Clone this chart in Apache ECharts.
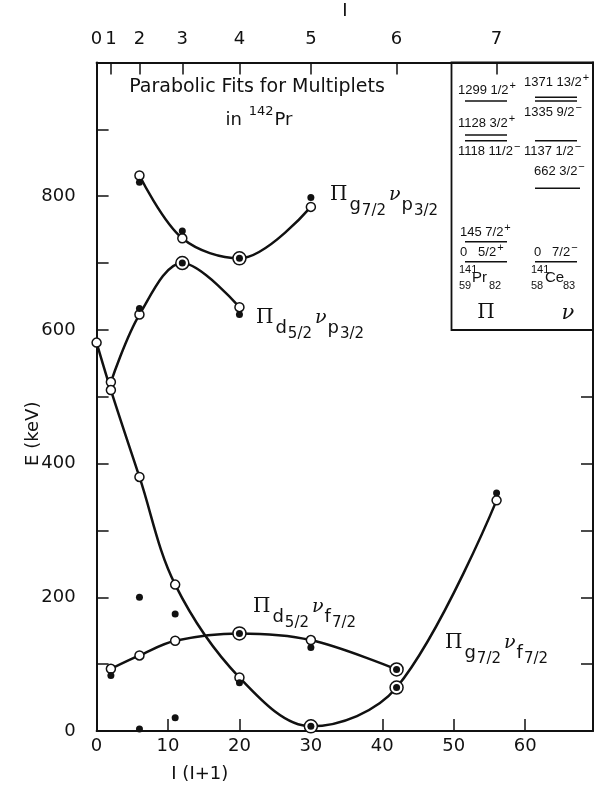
<!DOCTYPE html>
<html>
<head>
<meta charset="utf-8">
<script src="https://cdn.jsdelivr.net/npm/echarts@6/dist/echarts.min.js"></script>
<style>
html, body { margin: 0; padding: 0; background: #fff; }
#main { width: 594px; height: 792px; }
</style>
</head>
<body>
<div id="main"></div>
<script>
// top axis: spin I placed at I(I+1)
var spinValues = [0, 1, 2, 3, 4, 5, 6, 7];
var spinPositions = [0, 2, 6, 12, 20, 30, 42, 56];

// open circles (parabolic fit), one list per multiplet, [I(I+1), E keV]
var g7p3 = [[6, 831], [12, 737], [20, 707], [30, 784]];
var d5p3 = [[2, 522], [6, 623], [12, 700], [20, 634]];
var d5f7 = [[2, 93], [6, 113], [11, 135], [20, 146], [30, 136], [42, 92]];
var g7f7 = [[0, 581], [2, 510], [6, 380], [11, 219], [20, 80], [30, 7], [42, 65], [56, 345]];

// filled dots (measured levels)
var measured = [
	[6, 821], [12, 748], [20, 707], [30, 798],
	[6, 632], [12, 700], [20, 623],
	[2, 83], [6, 200], [11, 175], [20, 146], [30, 125], [42, 92],
	[6, 3], [11, 20], [20, 72], [30, 7], [42, 65], [56, 356]
];

// points where fit and measurement fall together (ringed dots)
var matched = [[20, 707], [12, 700], [20, 146], [42, 92], [30, 7], [42, 65]];

var yTicks = [0, 100, 200, 300, 400, 500, 600, 700, 800, 900, 1000];
var rightTicks = [100, 200, 300, 400, 500];

(function() {
	var myChart = echarts.init(document.getElementById("main"));
	var black = "#111";
	var FONT = "DejaVu Sans";
	var SERIF = "DejaVu Serif";
	var LIB = "Liberation Sans";

	function fitLine(data) {
		return {
			type: "line",
			data: data,
			smooth: 0.35,
			symbol: "circle",
			symbolSize: 9,
			showSymbol: true,
			lineStyle: { color: black, width: 2.5 },
			itemStyle: { color: "#fff", borderColor: black, borderWidth: 1.5 },
			z: 2,
			silent: true
		};
	}

	var labelRich = {
		P: { fontFamily: SERIF, fontSize: 20, lineHeight: 20, verticalAlign: "top", padding: [1, 2, 0, 0], fill: black },
		s: { fontFamily: FONT, fontSize: 18, lineHeight: 18, verticalAlign: "top", padding: [12, 0, 0, 0], fill: black },
		f: { fontFamily: FONT, fontSize: 15, lineHeight: 15, verticalAlign: "top", padding: [20, 2, 0, 1], fill: black },
		n: { fontFamily: SERIF, fontStyle: "italic", fontSize: 19, lineHeight: 19, verticalAlign: "top", padding: [2, 1, 0, 1], fill: black }
	};

	function curveLabel(x, y, a, fa, b, fb) {
		return {
			type: "text", x: x, y: y, silent: true,
			style: {
				text: "{P|\u03A0}{s|" + a + "}{f|" + fa + "}{n|\u03BD}{s|" + b + "}{f|" + fb + "}",
				rich: labelRich, verticalAlign: "top", align: "left", fill: black
			}
		};
	}

	var insetRich = {
		a: { fontFamily: LIB, fontSize: 13, lineHeight: 13, verticalAlign: "top", padding: [4, 0, 0, 0], fill: black },
		s: { fontFamily: LIB, fontSize: 11, lineHeight: 11, verticalAlign: "top", padding: [0, 0, 0, 1], fill: black }
	};

	function insetText(x, y, main, sup) {
		return {
			type: "text", x: x, y: y - 6, silent: true,
			style: {
				text: "{a|" + main + "}{s|" + sup + "}",
				rich: insetRich, verticalAlign: "top", align: "left", fill: black
			}
		};
	}

	function level(x1, x2, y) {
		return {
			type: "line", silent: true,
			shape: { x1: x1, y1: y, x2: x2, y2: y },
			style: { stroke: black, lineWidth: 1.5 }
		};
	}

	function plain(x, y, str, size, family, extra) {
		var st = { text: str, fontSize: size, fontFamily: family, fill: black, align: "left", verticalAlign: "top" };
		for (var k in extra) st[k] = extra[k];
		return { type: "text", x: x, y: y, silent: true, style: st };
	}

	var graphics = [
		// title
		plain(257, 78, "Parabolic Fits for Multiplets", 19, FONT, { align: "center" }),
		{
			type: "text", x: 259, y: 103, silent: true,
			style: {
				text: "{a|in }{s|142}{a|Pr}", align: "center", verticalAlign: "top", fill: black,
				rich: {
					a: { fontFamily: FONT, fontSize: 18, lineHeight: 18, verticalAlign: "top", padding: [8, 0, 0, 0], fill: black },
					s: { fontFamily: FONT, fontSize: 13, lineHeight: 13, verticalAlign: "top", padding: [2, 1, 0, 1], fill: black }
				}
			}
		},
		// curve labels
		curveLabel(330, 184, "g", "7/2", "p", "3/2"),
		curveLabel(256, 307, "d", "5/2", "p", "3/2"),
		curveLabel(253, 596, "d", "5/2", "f", "7/2"),
		curveLabel(445, 632, "g", "7/2", "f", "7/2"),
		// inset: level schemes of 141Pr and 141Ce
		{
			type: "rect", silent: true,
			shape: { x: 451.5, y: 62.5, width: 141.5, height: 267.5 },
			style: { fill: "none", stroke: black, lineWidth: 1.8 }
		},
		insetText(458, 86, "1299 1/2", "+"),
		level(465, 507, 101),
		insetText(458, 119, "1128 3/2", "+"),
		level(465, 507, 135),
		level(465, 507, 140.7),
		insetText(458, 147, "1118 11/2", "\u2212"),
		insetText(460, 228, "145 7/2", "+"),
		level(465, 507, 241.7),
		insetText(460, 248, "0   5/2", "+"),
		level(465, 507, 261.7),
		plain(459, 264, "141", 11, LIB),
		plain(459, 280, "59", 11, LIB),
		plain(472, 270, "Pr", 15, LIB),
		plain(489, 280, "82", 11, LIB),

		insetText(524, 78, "1371 13/2", "+"),
		level(535, 577, 97.3),
		level(535, 577, 101),
		insetText(524, 108, "1335 9/2", "\u2212"),
		level(535, 577, 140.7),
		insetText(524, 147, "1137 1/2", "\u2212"),
		insetText(534, 167, "662 3/2", "\u2212"),
		level(535, 580, 188.3),
		insetText(534, 248, "0   7/2", "\u2212"),
		level(535, 577, 261.7),
		plain(531, 264, "141", 11, LIB),
		plain(531, 280, "58", 11, LIB),
		plain(545, 270, "Ce", 15, LIB),
		plain(563, 280, "83", 11, LIB),

		plain(486, 303, "\u03A0", 20, SERIF, { align: "center" }),
		plain(568, 303, "\u03BD", 21, SERIF, { align: "center", fontStyle: "italic" })
	];

	var axisLine = { show: true, onZero: false, lineStyle: { color: black, width: 2 } };
	var tickStyle = { color: black, width: 1.5 };
	var labelStyle = { color: black, fontSize: 18, fontFamily: FONT };

	var option = {
		animation: false,
		backgroundColor: "#fff",
		grid: { left: 96.6, right: 1, top: 62.5, bottom: 61, containLabel: false, outerBoundsMode: "none" },
		xAxis: [
			{
				type: "value", position: "bottom", min: 0, max: 69.5, interval: 10,
				axisLine: axisLine,
				axisTick: { show: true, inside: true, length: 12, lineStyle: tickStyle },
				axisLabel: Object.assign({
					margin: 6, showMaxLabel: false,
					formatter: function(v) { return v % 10 === 0 ? String(v) : ""; }
				}, labelStyle),
				splitLine: { show: false },
				name: "I (I+1)", nameLocation: "middle", nameGap: 34, nameMoveOverlap: false,
				nameTextStyle: Object.assign({ padding: [0, 290, 0, 0] }, labelStyle)
			},
			{
				type: "value", position: "top", min: 0, max: 69.5,
				axisLine: axisLine,
				axisTick: { show: true, inside: true, length: 12, lineStyle: tickStyle, customValues: spinPositions },
				axisLabel: Object.assign({
					margin: 14, customValues: spinPositions,
					formatter: function(v) {
						var i = spinPositions.indexOf(v);
						return i < 0 ? "" : String(spinValues[i]);
					}
				}, labelStyle),
				splitLine: { show: false },
				name: "I", nameLocation: "middle", nameGap: 42, nameMoveOverlap: false,
				nameTextStyle: labelStyle
			}
		],
		yAxis: [
			{
				type: "value", position: "left", min: 0, max: 1000, interval: 100,
				axisLine: axisLine,
				axisTick: { show: true, inside: true, length: 12, lineStyle: tickStyle, customValues: yTicks },
				axisLabel: Object.assign({
					margin: 21,
					formatter: function(v) { return (v % 200 === 0 && v < 1000) ? String(v) : ""; }
				}, labelStyle),
				splitLine: { show: false },
				name: "E (keV)", nameLocation: "middle", nameGap: 54, nameMoveOverlap: false,
				nameTextStyle: Object.assign({ padding: [0, 74, 0, 0] }, labelStyle)
			},
			{
				type: "value", position: "right", min: 0, max: 1000, interval: 100,
				axisLine: axisLine,
				axisTick: { show: true, inside: true, length: 12, lineStyle: tickStyle, customValues: rightTicks },
				axisLabel: { show: false },
				splitLine: { show: false }
			}
		],
		series: [
			fitLine(g7p3),
			fitLine(d5p3),
			fitLine(d5f7),
			fitLine(g7f7),
			{
				type: "scatter", data: matched, symbol: "circle", symbolSize: 13,
				itemStyle: { color: "#fff", borderColor: black, borderWidth: 1.5, opacity: 1 },
				z: 3, silent: true
			},
			{
				type: "scatter", data: measured, symbol: "circle", symbolSize: 7,
				itemStyle: { color: black, opacity: 1 },
				z: 4, silent: true
			}
		],
		graphic: { elements: graphics }
	};

	myChart.setOption(option);

	window.addEventListener("resize", function() {
		myChart.resize();
	});
})();
</script>
</body>
</html>
